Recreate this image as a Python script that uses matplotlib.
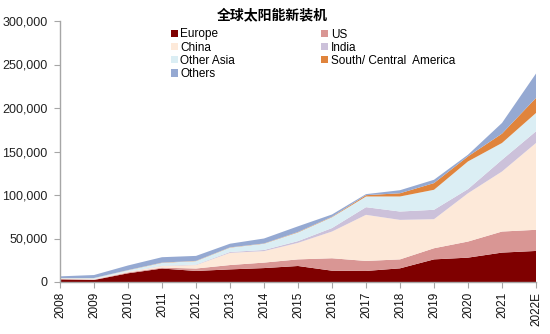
import matplotlib
matplotlib.use("Agg")
import matplotlib.pyplot as plt
from matplotlib.patches import Patch
from matplotlib.ticker import FuncFormatter

years = ["2008", "2009", "2010", "2011", "2012", "2013", "2014", "2015",
         "2016", "2017", "2018", "2019", "2020", "2021", "2022E"]

# Newly installed PV capacity by region (MW)
europe = [3000, 2300, 10000, 15500, 12700, 14500, 16000, 18400,
          13000, 12700, 15700, 26000, 28000, 33800, 35700]
us = [300, 500, 1000, 1000, 2800, 5000, 6300, 7600,
      14300, 11500, 10300, 12800, 18500, 24200, 24300]
china = [200, 400, 800, 1900, 4000, 14000, 13200, 19000,
         30700, 53000, 45400, 33400, 55500, 69000, 99800]
india = [100, 100, 200, 400, 500, 1000, 1300, 2000,
         4000, 8800, 9600, 10800, 4800, 13500, 13400]
other_asia = [900, 1200, 1500, 3200, 4000, 5000, 7200, 10000,
              12500, 12300, 17300, 23000, 31800, 19300, 21100]
latam = [100, 100, 200, 300, 300, 300, 300, 500,
         500, 1500, 3700, 7700, 5800, 10700, 17300]
others = [1900, 3400, 5300, 6200, 5700, 4200, 5700, 6500,
          2600, 1200, 3500, 3800, 1900, 12300, 28000]

series_names = ["Europe", "US", "China", "India", "Other Asia",
                "South/ Central  America", "Others"]
series_colors = ["#7F0000", "#D99694", "#FDE9D9", "#CCC1DA",
                 "#DBEEF4", "#E0843C", "#95A9D2"]

title = "全球太阳能新装机"

plt.rcParams["font.family"] = ["Liberation Sans", "DejaVu Sans"]

W, H = 550, 334
fig = plt.figure(figsize=(W / 100, H / 100), dpi=100)
ax = fig.add_axes([60 / W, 1 - 282 / H, (536 - 60) / W, (282 - 21) / H])

x = list(range(len(years)))
ax.stackplot(x, europe, us, china, india, other_asia, latam, others,
             colors=series_colors, linewidth=0, antialiased=True)

ax.set_xlim(0, len(years) - 1)
ax.set_ylim(0, 300000)
ax.set_yticks(range(0, 300001, 50000))
ax.yaxis.set_major_formatter(FuncFormatter(lambda v, p: f"{int(v):,}"))
ax.set_xticks(x)
ax.set_xticklabels(years, rotation=90)

for side in ("top", "right"):
    ax.spines[side].set_visible(False)
for side in ("left", "bottom"):
    ax.spines[side].set_color("#A6A6A6")
    ax.spines[side].set_linewidth(1.0)
    ax.spines[side].set_zorder(5)

ax.tick_params(axis="y", direction="out", length=4, color="#A6A6A6",
               labelsize=9, labelcolor="#222222", pad=5)
ax.tick_params(axis="x", direction="out", length=4, color="#A6A6A6",
               labelsize=8.5, labelcolor="#111111", pad=3)

fig.text(272 / W, 1 - 15 / H, title, ha="center", va="center",
         fontsize=10, fontweight="bold",
         family=["Noto Sans CJK SC", "DejaVu Sans"])

# legend: two columns, filled row by row
order = [0, 2, 4, 6, 1, 3, 5]
handles = [Patch(facecolor=series_colors[i], edgecolor="none") for i in order]
labels = [series_names[i] for i in order]
fig.legend(handles, labels, ncol=2, loc="upper left",
           bbox_to_anchor=(171 / W, 1 - 28.5 / H), frameon=False,
           fontsize=8.5, borderpad=0, borderaxespad=0,
           handlelength=0.6, handleheight=0.6, handletextpad=0.2,
           labelspacing=0.1, columnspacing=7.3)

fig.savefig("out.png", dpi=100)
